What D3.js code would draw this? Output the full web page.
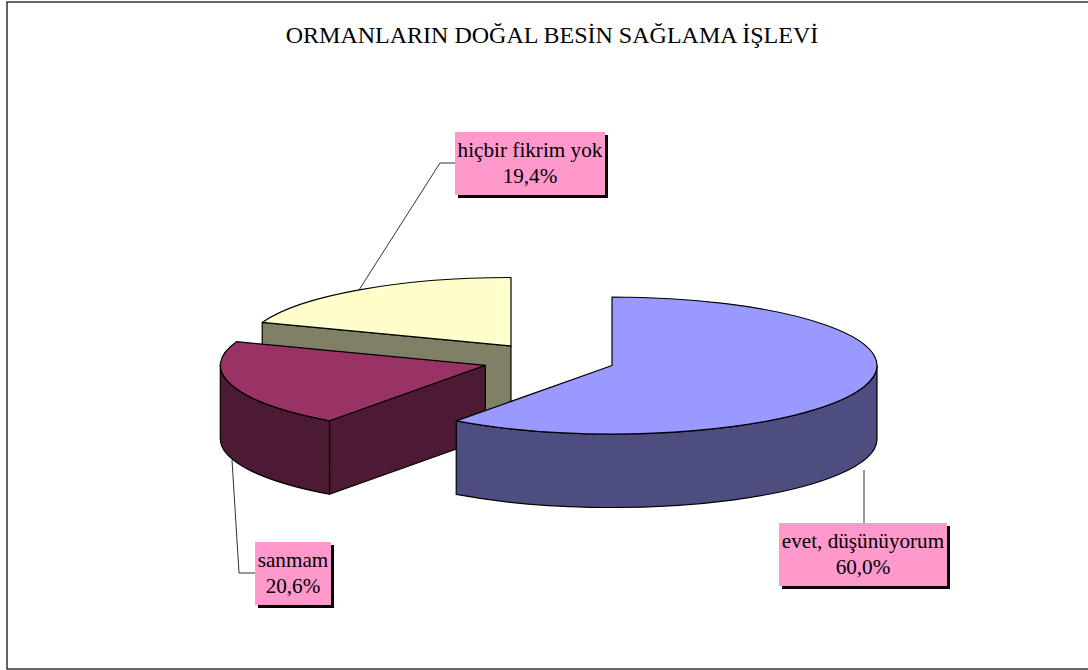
<!DOCTYPE html>
<html><head><meta charset="utf-8">
<script src="https://cdn.jsdelivr.net/npm/d3@7"></script>
<style>html,body{margin:0;padding:0;background:#fff;overflow:hidden}svg{display:block}text{font-family:"Liberation Serif","Times New Roman",serif;fill:#000}</style>
</head><body><svg id="c" width="1088" height="670"></svg>
<script>
const chartTitle = "ORMANLARIN DOĞAL BESİN SAĞLAMA İŞLEVİ";
const categories = ["evet, düşünüyorum", "sanmam", "hiçbir fikrim yok"];
const shares = [60.0, 20.6, 19.4];
const topColors = ["#9999FF", "#993366", "#FFFFCC"];
const sideColors = ["#4D4D80", "#4D1A33", "#808066"];

// layout
const rx = 265, ry = 68.5, depth = 73.5;
const centers = [[612,365.5],[485.3,365.3],[511,346]];
const boxes = [[779,523,168,63],[255,542,76,63],[455,132,150,63]];
const leaders = [
  [[864,523],[864,470]],
  [[255,573],[239,573],[232,460]],
  [[455,163],[440,163],[359,290]]
];

const svg = d3.select("#c");
svg.append("rect").attr("x",7).attr("y",2).attr("width",1090).attr("height",667)
  .attr("fill","#fff").attr("stroke","#000").attr("stroke-width",1.2);
svg.append("text").attr("x",552).attr("y",43).attr("text-anchor","middle")
  .attr("font-size",24).text(chartTitle);

const arcs = d3.pie().sort(null)(shares);
const pt = (c,a,dy=0)=>[c[0]+rx*Math.sin(a), c[1]-ry*Math.cos(a)+dy];
const line = d3.line();

// leaders under the pie
svg.selectAll("path.leader").data(leaders).join("path").attr("class","leader")
  .attr("d",line).attr("fill","none").attr("stroke","#333").attr("stroke-width",1);

function topFace(c,a0,a1){
  const p0=pt(c,a0), p1=pt(c,a1), large=(a1-a0)>Math.PI?1:0;
  return `M${c[0]},${c[1]}L${p0[0]},${p0[1]}A${rx},${ry} 0 ${large} 1 ${p1[0]},${p1[1]}Z`;
}
function rim(c,a0,a1){
  const p0=pt(c,a0), p1=pt(c,a1), q0=pt(c,a0,depth), q1=pt(c,a1,depth);
  return `M${p0[0]},${p0[1]}A${rx},${ry} 0 0 1 ${p1[0]},${p1[1]}L${q1[0]},${q1[1]}A${rx},${ry} 0 0 0 ${q0[0]},${q0[1]}Z`;
}
function cutFace(c,a){
  const p=pt(c,a), q=pt(c,a,depth);
  return `M${c[0]},${c[1]}L${p[0]},${p[1]}L${q[0]},${q[1]}L${c[0]},${c[1]+depth}Z`;
}
const stroke = s=>s.attr("stroke","#000").attr("stroke-width",1.2).attr("stroke-linejoin","round");
const front0 = Math.PI/2, front1 = 3*Math.PI/2;

// back-to-front: yellow, maroon, blue
[2,1,0].forEach(i=>{
  const d = arcs[i], c = centers[i], g = svg.append("g");
  const side = sideColors[i];
  if(i!==0){ g.append("path").attr("d",cutFace(c,d.startAngle)).attr("fill",side).call(stroke); }
  const a0 = Math.max(d.startAngle,front0), a1 = Math.min(d.endAngle,front1);
  if(a1>a0){ g.append("path").attr("d",rim(c,a0,a1)).attr("fill",side).call(stroke); }
  g.append("path").attr("d",topFace(c,d.startAngle,d.endAngle)).attr("fill",topColors[i]).call(stroke);
});

// labels
categories.forEach((name,i)=>{
  const b = boxes[i], g = svg.append("g");
  g.append("rect").attr("x",b[0]+3).attr("y",b[1]+3).attr("width",b[2]).attr("height",b[3]).attr("fill","#000");
  g.append("rect").attr("x",b[0]).attr("y",b[1]).attr("width",b[2]).attr("height",b[3]).attr("fill","#FF99CC");
  const cx=b[0]+b[2]/2;
  g.append("text").attr("x",cx).attr("y",b[1]+25).attr("text-anchor","middle").attr("font-size",21.2).text(name);
  g.append("text").attr("x",cx).attr("y",b[1]+51).attr("text-anchor","middle").attr("font-size",21.2)
    .text(d3.format(".1f")(shares[i]).replace(".",",")+"%");
});
</script></body></html>
